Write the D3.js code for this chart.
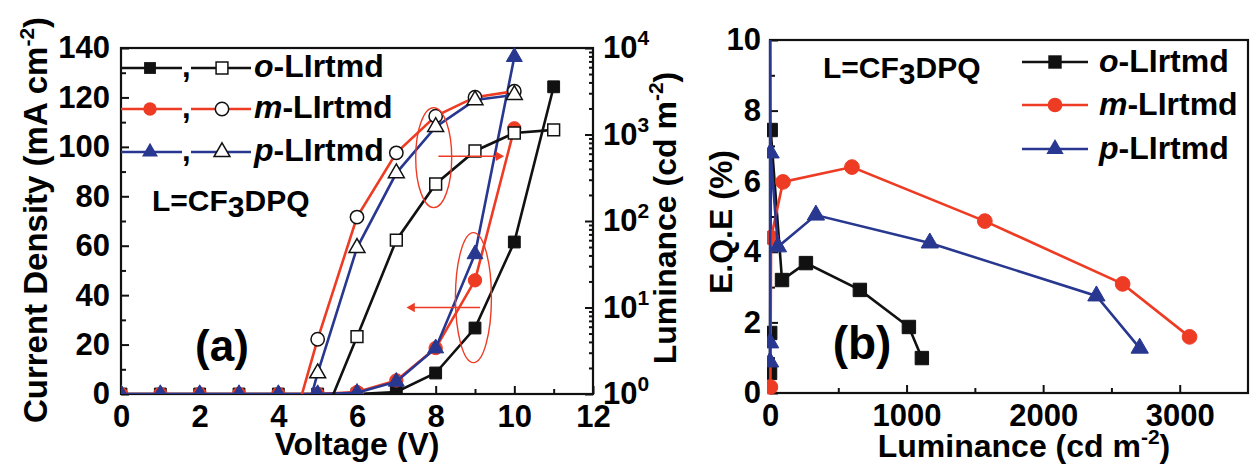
<!DOCTYPE html>
<html>
<head>
<meta charset="utf-8">
<script src="https://cdn.jsdelivr.net/npm/d3@7"></script>
<style>
body { margin: 0; background: #fff; }
svg text { font-family: "Liberation Sans", Arial, sans-serif; font-weight: bold; fill: #000; }
</style>
</head>
<body>
<svg id="chart" width="1252" height="468"></svg>
<script>
/*
 * Data
 * */
var volts = [0, 1, 2, 3, 4, 5, 6, 7, 8, 9, 10, 11];

// current density (mA cm-2), filled markers, left axis
var jO = [0, 0, 0, 0, 0, 0, 0, 0.8, 8.5, 26.7, 61.5, 124.3];
var jM = [0, 0, 0, 0, 0, 0, 0.8, 5.5, 18.6, 46, 107.5];
var jP = [0, 0, 0, 0, 0, 0, 0.5, 5, 18.5, 56.6, 136.4];

// luminance (cd m-2), open markers, right log axis
var lumVoltO = [5, 6, 7, 8, 9, 10, 11];
var lumO = [0.36, 4.6, 60, 268, 645, 1040, 1130];
var lumVoltM = [4, 5, 6, 7, 8, 9, 10];
var lumM = [0.11, 4.3, 111, 614, 1630, 2700, 3170];
var lumVoltP = [4, 5, 6, 7, 8, 9, 10];
var lumP = [0.04, 1.74, 49, 358, 1225, 2500, 2870];

// EQE (%) vs luminance
var eqeLumO = [0.4, 1.5, 5, 88, 263, 658, 1017, 1112];
var eqeO = [0.57, 1.7, 7.45, 3.2, 3.68, 2.92, 1.87, 0.99];
var eqeLumM = [3, 8, 95, 600, 1573, 2582, 3072];
var eqeM = [0.17, 4.4, 5.98, 6.4, 4.87, 3.09, 1.59];
var eqeLumP = [0.3, 0.8, 1.5, 4, 58, 336, 1170, 2390, 2707];
var eqeP = [0.88, 1.42, 12, 6.8, 4.14, 5.04, 4.25, 2.75, 1.27];

var xTicksA = [0, 2, 4, 6, 8, 10, 12];
var yTicksA = [0, 20, 40, 60, 80, 100, 120, 140];
var lumTicks = [1, 10, 100, 1000, 10000];
var xTicksB = [0, 1000, 2000, 3000];
var yTicksB = [0, 2, 4, 6, 8, 10];

var black = '#111111',
    red = '#ee3b24',
    blue = '#28378f';

var svg = d3.select('#chart');

/*
 * Helpers
 * */
function symbolPath(type, size) {
    return d3.symbol().type(type).size(size)();
}

function drawAxis(g, axis) {
    g.call(axis);
    g.select('.domain').remove();
    g.selectAll('.tick line').attr('stroke', black).attr('stroke-width', 2);
    g.selectAll('.tick text').attr('font-size', '31px').attr('fill', '#000')
        .attr('font-family', '"Liberation Sans", Arial, sans-serif');
}

function series(g, xs, ys, x, y, colour, type, size, open) {
    var pts = d3.zip(xs, ys);
    var line = d3.line().x(function (d) { return x(d[0]); }).y(function (d) { return y(d[1]); });
    g.append('path').attr('d', line(pts)).attr('fill', 'none')
        .attr('stroke', colour).attr('stroke-width', 2.6);
    g.selectAll(null).data(pts).enter().append('path')
        .attr('transform', function (d) { return 'translate(' + x(d[0]) + ',' + y(d[1]) + ')'; })
        .attr('d', symbolPath(type, size))
        .attr('fill', open ? '#fff' : colour)
        .attr('stroke', open ? black : colour)
        .attr('stroke-width', open ? 1.5 : 1);
}

function legendName(g, x, y, lead) {
    var t = g.append('text').attr('x', x).attr('y', y).attr('font-size', '32px');
    t.append('tspan').attr('font-style', 'italic').text(lead);
    t.append('tspan').text('-LIrtmd');
}

function ligandText(g, x, y) {
    var t = g.append('text').attr('x', x).attr('y', y).attr('font-size', '30px');
    t.append('tspan').text('L=CF');
    t.append('tspan').attr('dy', 6).text('3');
    t.append('tspan').attr('dy', -6).text('DPQ');
}

// "Luminance (cd m-2)" style title with raised exponent
function unitTitle(t, main) {
    t.append('tspan').text(main);
    t.append('tspan').attr('dy', -13).attr('font-size', '21px').text('-2');
    t.append('tspan').attr('dy', 13).text(')');
}

/*
 * Panel (a): J-V-L
 * */
var xA = d3.scaleLinear().domain([0, 12]).range([121, 593]);
var yA = d3.scaleLinear().domain([0, 140]).range([394, 48]);
var yL = d3.scaleLog().domain([1, 1e4]).range([394, 48]);

svg.append('clipPath').attr('id', 'clipA').append('rect')
    .attr('x', 121).attr('y', 40).attr('width', 472).attr('height', 354);

var gA = svg.append('g');

drawAxis(gA.append('g').attr('transform', 'translate(0,394)'),
    d3.axisBottom(xA).tickValues(xTicksA).tickSizeInner(-8).tickSizeOuter(0).tickPadding(11));
drawAxis(gA.append('g').attr('transform', 'translate(0,394)'),
    d3.axisBottom(xA).tickValues([1, 3, 5, 7, 9, 11]).tickSizeInner(-5).tickSizeOuter(0).tickFormat(''));
drawAxis(gA.append('g').attr('transform', 'translate(121,0)'),
    d3.axisLeft(yA).tickValues(yTicksA).tickSizeInner(-8).tickSizeOuter(0).tickPadding(11));
drawAxis(gA.append('g').attr('transform', 'translate(121,0)'),
    d3.axisLeft(yA).tickValues([10, 30, 50, 70, 90, 110, 130]).tickSizeInner(-5).tickSizeOuter(0).tickFormat(''));

var lumMinor = [];
[1, 10, 100, 1000].forEach(function (p) {
    for (var k = 2; k <= 9; k++) lumMinor.push(p * k);
});
var rightAxis = gA.append('g').attr('transform', 'translate(593,0)');
drawAxis(rightAxis, d3.axisRight(yL).tickValues(lumTicks).tickSizeInner(-8).tickSizeOuter(0).tickPadding(10));
rightAxis.selectAll('.tick text').text(null).each(function (d) {
    var t = d3.select(this);
    t.append('tspan').text('10');
    t.append('tspan').attr('dy', -13).attr('font-size', '21px').text(Math.round(Math.log10(d)));
});
drawAxis(gA.append('g').attr('transform', 'translate(593,0)'),
    d3.axisRight(yL).tickValues(lumMinor).tickSizeInner(-4).tickSizeOuter(0).tickFormat(''));

gA.append('rect').attr('x', 121).attr('y', 48).attr('width', 472).attr('height', 346)
    .attr('fill', 'none').attr('stroke', black).attr('stroke-width', 2.2);

var dataA = gA.append('g').attr('clip-path', 'url(#clipA)');
series(dataA, volts, jO, xA, yA, black, d3.symbolSquare, 140, false);
series(dataA, volts.slice(0, jM.length), jM, xA, yA, red, d3.symbolCircle, 140, false);
series(dataA, volts.slice(0, jP.length), jP, xA, yA, blue, d3.symbolTriangle, 110, false);
series(dataA, lumVoltO, lumO, xA, yL, black, d3.symbolSquare, 140, true);
series(dataA, lumVoltM, lumM, xA, yL, red, d3.symbolCircle, 140, true);
series(dataA, lumVoltP, lumP, xA, yL, blue, d3.symbolTriangle, 110, true);

// annotation ellipses + arrows
gA.append('ellipse').attr('cx', xA(7.95)).attr('cy', yL(540)).attr('rx', 18).attr('ry', 50)
    .attr('fill', 'none').attr('stroke', red).attr('stroke-width', 1.4);
gA.append('line').attr('x1', xA(8.07)).attr('x2', xA(9.55)).attr('y1', yL(560)).attr('y2', yL(560))
    .attr('stroke', red).attr('stroke-width', 1.4);
gA.append('path').attr('d', symbolPath(d3.symbolTriangle, 40))
    .attr('transform', 'translate(' + xA(9.6) + ',' + yL(560) + ') rotate(90)').attr('fill', red);

gA.append('ellipse').attr('cx', xA(8.96)).attr('cy', yA(39)).attr('rx', 18).attr('ry', 65)
    .attr('fill', 'none').attr('stroke', red).attr('stroke-width', 1.4);
gA.append('line').attr('x1', xA(9.13)).attr('x2', xA(7.45)).attr('y1', yA(35)).attr('y2', yA(35))
    .attr('stroke', red).attr('stroke-width', 1.4);
gA.append('path').attr('d', symbolPath(d3.symbolTriangle, 40))
    .attr('transform', 'translate(' + xA(7.4) + ',' + yA(35) + ') rotate(-90)').attr('fill', red);

// legend (a)
var legA = [
    { y: 68, colour: black, type: d3.symbolSquare, size: 140, lead: 'o' },
    { y: 109, colour: red, type: d3.symbolCircle, size: 140, lead: 'm' },
    { y: 152, colour: blue, type: d3.symbolTriangle, size: 110, lead: 'p' }
];
legA.forEach(function (d) {
    gA.append('line').attr('x1', 121).attr('x2', 182).attr('y1', d.y).attr('y2', d.y)
        .attr('stroke', d.colour).attr('stroke-width', 2.6);
    gA.append('path').attr('d', symbolPath(d.type, d.size))
        .attr('transform', 'translate(150,' + d.y + ')').attr('fill', d.colour);
    gA.append('text').attr('x', 182).attr('y', d.y + 9).attr('font-size', '31px').text(',');
    gA.append('line').attr('x1', 191).attr('x2', 251).attr('y1', d.y).attr('y2', d.y)
        .attr('stroke', d.colour).attr('stroke-width', 2.6);
    gA.append('path').attr('d', symbolPath(d.type, d.size))
        .attr('transform', 'translate(222,' + d.y + ')').attr('fill', '#fff')
        .attr('stroke', black).attr('stroke-width', 1.5);
    legendName(gA, 254, d.y + 9, d.lead);
});
ligandText(gA, 152, 211);

gA.append('text').attr('x', 222).attr('y', 361).attr('text-anchor', 'middle')
    .attr('font-size', '44px').text('(a)');

// axis titles (a)
gA.append('text').attr('x', 357).attr('y', 455).attr('text-anchor', 'middle')
    .attr('font-size', '32px').text('Voltage (V)');

var tJ = gA.append('text').attr('transform', 'translate(47,220) rotate(-90)')
    .attr('text-anchor', 'middle').attr('font-size', '33px');
unitTitle(tJ, 'Current Density (mA cm');

var tL = gA.append('text').attr('transform', 'translate(676,218) rotate(-90)')
    .attr('text-anchor', 'middle').attr('font-size', '32px');
unitTitle(tL, 'Luminance (cd m');

/*
 * Panel (b): EQE-L
 * */
var xB = d3.scaleLinear().domain([0, 3500]).range([770, 1248]);
var yB = d3.scaleLinear().domain([0, 10]).range([393, 40]);

svg.append('clipPath').attr('id', 'clipB').append('rect')
    .attr('x', 767).attr('y', 40).attr('width', 481).attr('height', 358);

var gB = svg.append('g');

drawAxis(gB.append('g').attr('transform', 'translate(0,393)'),
    d3.axisBottom(xB).tickValues(xTicksB).tickFormat(d3.format('d'))
        .tickSizeInner(-8).tickSizeOuter(0).tickPadding(11));
drawAxis(gB.append('g').attr('transform', 'translate(0,393)'),
    d3.axisBottom(xB).tickValues([500, 1500, 2500]).tickSizeInner(-5).tickSizeOuter(0).tickFormat(''));
drawAxis(gB.append('g').attr('transform', 'translate(770,0)'),
    d3.axisLeft(yB).tickValues(yTicksB).tickSizeInner(-8).tickSizeOuter(0).tickPadding(9));
drawAxis(gB.append('g').attr('transform', 'translate(770,0)'),
    d3.axisLeft(yB).tickValues([1, 3, 5, 7, 9]).tickSizeInner(-5).tickSizeOuter(0).tickFormat(''));

gB.append('rect').attr('x', 770).attr('y', 40).attr('width', 478).attr('height', 353)
    .attr('fill', 'none').attr('stroke', black).attr('stroke-width', 2.2);

var dataB = gB.append('g').attr('clip-path', 'url(#clipB)');
series(dataB, eqeLumO, eqeO, xB, yB, black, d3.symbolSquare, 180, false);
series(dataB, eqeLumM, eqeM, xB, yB, red, d3.symbolCircle, 170, false);
series(dataB, eqeLumP, eqeP, xB, yB, blue, d3.symbolTriangle, 130, false);

var legB = [
    { y: 62, colour: black, type: d3.symbolSquare, size: 180, lead: 'o' },
    { y: 105, colour: red, type: d3.symbolCircle, size: 170, lead: 'm' },
    { y: 149, colour: blue, type: d3.symbolTriangle, size: 130, lead: 'p' }
];
legB.forEach(function (d) {
    gB.append('line').attr('x1', 1022).attr('x2', 1088).attr('y1', d.y).attr('y2', d.y)
        .attr('stroke', d.colour).attr('stroke-width', 2.6);
    gB.append('path').attr('d', symbolPath(d.type, d.size))
        .attr('transform', 'translate(1055,' + d.y + ')').attr('fill', d.colour);
    legendName(gB, 1099, d.y + 10, d.lead);
});
ligandText(gB, 823, 78);

gB.append('text').attr('x', 862).attr('y', 359).attr('text-anchor', 'middle')
    .attr('font-size', '46px').text('(b)');

gB.append('text').attr('transform', 'translate(732,222) rotate(-90)')
    .attr('text-anchor', 'middle').attr('font-size', '32px').text('E.Q.E (%)');

var tLB = gB.append('text').attr('x', 1024).attr('y', 457)
    .attr('text-anchor', 'middle').attr('font-size', '32px');
unitTitle(tLB, 'Luminance (cd m');
</script>
</body>
</html>
